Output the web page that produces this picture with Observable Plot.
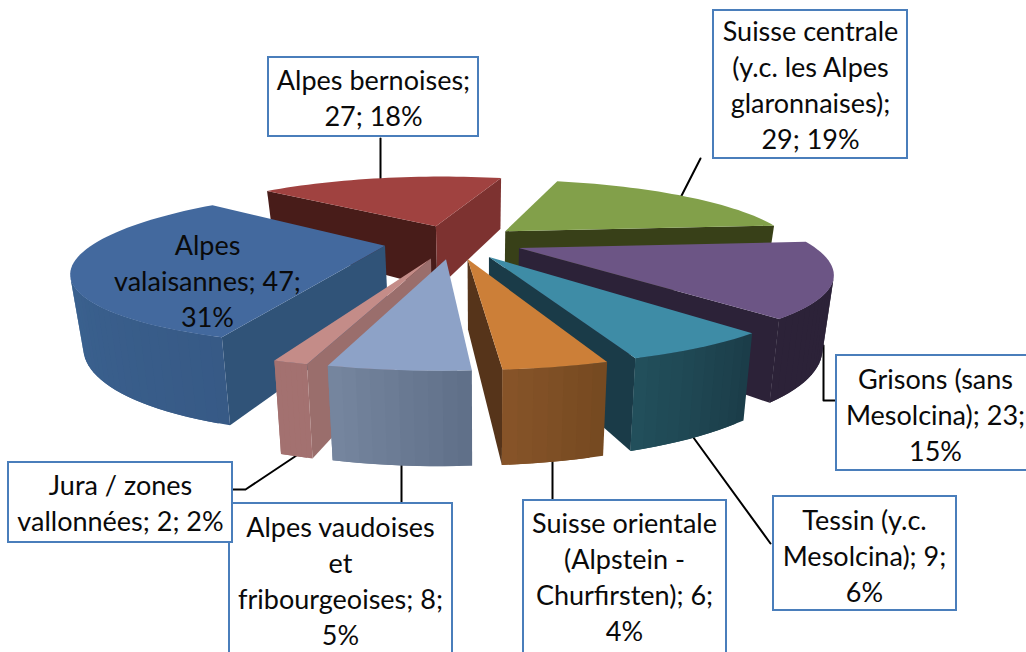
<!DOCTYPE html>
<html><head><meta charset="utf-8">
<script src="https://cdn.jsdelivr.net/npm/d3@7"></script>
<script src="https://cdn.jsdelivr.net/npm/@observablehq/plot@0.6"></script>
<style>html,body{margin:0;padding:0;background:#fff;overflow:hidden}svg{display:block}</style>
</head><body><div id="chart"></div>
<script>
// --- data ---
const categories = ["Alpes valaisannes","Alpes bernoises","Suisse centrale (y.c. les Alpes glaronnaises)","Grisons (sans Mesolcina)","Tessin (y.c. Mesolcina)","Suisse orientale (Alpstein - Churfirsten)","Alpes vaudoises et fribourgeoises","Jura / zones vallonnées"];
const values = [47,27,29,23,9,6,8,2];
const labels = [
 "Alpes\nvalaisannes; 47;\n31%",
 "Alpes bernoises;\n27; 18%",
 "Suisse centrale\n(y.c. les Alpes\nglaronnaises);\n29; 19%",
 "Grisons (sans\nMesolcina); 23;\n15%",
 "Tessin (y.c.\nMesolcina); 9;\n6%",
 "Suisse orientale\n(Alpstein -\nChurfirsten); 6;\n4%",
 "Alpes vaudoises\net\nfribourgeoises; 8;\n5%",
 "Jura / zones\nvallonnées; 2; 2%"
];
// --- styles and layout ---
const topColors   = ["#43699e","#a04240","#82a04a","#6c5585","#3e8ca6","#cc7f38","#8da2c7","#c48c88"];
const startColors = ["#305378","#481c19","#384018","#2c2238","#1a3b48","#56341a","#5e6e88","#9a6e6c"];
const endColors   = ["#305378","#7d3230","#384018","#2c2238","#1a3b48","#56341a","#5e6e88","#9a6e6c"];
const wallFrom    = ["#375a86","#7d3230","#384018","#2c2238","#1b3c48","#754920","#5f6f88","#a37170"];
const wallTo      = ["#3f6b9c","#7d3230","#384018","#2c2238","#22505c","#875429","#76869f","#a37170"];
const drawOrder = [1,2,0,3,4,5,7,6];
const startAngle = 199.4, cx = 453, cy = 241, focal = 289, tilt = 70, persp = 0.265, perspX = 0.28, shear = -0.05,
      explode = 0.24, depth = 66, depthPersp = 0.25, vanishX = 480, bottomScale = 0.968;
const labelBoxes = [
 null,[268,57,478,136],[713,10,907,158],[836,355,1030,470],[773,496,956,610],[523,500,726,656],[229,503,452,656],[8,462,232,542]];
const labelCenters = [[207,279],[373,96],[810,83],[935,413],[864,554],[624,575],[340,579],[120,501]];
const leaders = [
 [[380,138],[380,185]],
 [[700,158],[676,205]],
 [[823,345],[823,400],[836,400]],
 [[690,433],[770,543]],
 [[552,455],[552,503]],
 [[401,455],[401,503]],
 [[302,451],[245,489],[232,489]]
];
// --- geometry from the values ---
const total = d3.sum(values);
const rad = Math.PI/180;
function project(X,Y,bottom){
  let sy = cy + tilt*Y/(1 - persp*Y);
  let sx = cx + focal*X/(1 - perspX*Y) + shear*(sy-cy);
  if(bottom){ sx = vanishX + (sx-vanishX)*bottomScale; sy += depth/(1-depthPersp*Y); }
  return [sx,sy];
}
const polys = []; let pid = 0;
function area(pts){
  let a=0; for(let i=0;i<pts.length;i++){const p=pts[i],q=pts[(i+1)%pts.length];a+=p[0]*q[1]-q[0]*p[1];}
  return a/2;
}
function pushPoly(pts,color){ pid++; pts.forEach(p=>polys.push({id:pid,x:p[0],y:p[1],c:color})); }
let acc = 0;
const slices = values.map((v,i)=>{ const s=startAngle+acc*360/total; acc+=v; return {i,s,e:startAngle+acc*360/total}; });
for(const k of drawOrder){
  const {i,s,e} = slices[k];
  const mid=(s+e)/2*rad;
  const ox=explode*Math.sin(mid), oy=-explode*Math.cos(mid);
  const P=(th,r,b)=>project(ox+r*Math.sin(th*rad), oy-r*Math.cos(th*rad), b);
  const n=Math.max(6,Math.round((e-s)/2));
  const th=d3.range(n+1).map(j=>s+(e-s)*j/n);
  const top=[P(s,0,false),...th.map(t=>P(t,1,false))];
  const sign=Math.sign(area(top));
  const quad=(t1,r1,t2,r2)=>[P(t1,r1,false),P(t2,r2,false),P(t2,r2,true),P(t1,r1,true)];
  const w1=quad(s,0,s,1), w2=quad(e,1,e,0);
  if(Math.sign(area(w1))*sign<0) pushPoly(w1,startColors[i]);
  if(Math.sign(area(w2))*sign<0) pushPoly(w2,endColors[i]);
  const mix=d3.interpolateRgb(wallFrom[i],wallTo[i]);
  for(let j=0;j<n;j++){
    if(Math.sign(area(quad(th[j],1,th[j+1],1)))*sign<0){
      // each strip reaches into the next one so no seams show
      pushPoly(quad(th[j],1,th[Math.min(j+2,n)],1),mix((j+0.5)/n));
    }
  }
  pushPoly(top,topColors[i]);
}
const rects = labelBoxes.filter(Boolean).map(b=>({x1:b[0],y1:b[1],x2:b[2],y2:b[3]}));
const leaderPts = leaders.flatMap((l,i)=>l.map(p=>({id:i,x:p[0],y:p[1]})));
const texts = labels.map((t,i)=>({t,x:labelCenters[i][0],y:labelCenters[i][1]}));
const cfill={value:"c",scale:null};
const chart = Plot.plot({
  width:1026,height:652,margin:0,
  x:{domain:[0,1026],range:[0,1026],axis:null},
  y:{domain:[0,652],range:[0,652],axis:null},
  style:{background:"#fff"},
  marks:[
    Plot.line(leaderPts,{x:"x",y:"y",z:"id",stroke:"#000",strokeWidth:2,curve:"linear"}),
    Plot.line(polys,{x:"x",y:"y",z:"id",fill:cfill,curve:"linear-closed",stroke:null}),
    Plot.rect(rects,{x1:"x1",x2:"x2",y1:"y1",y2:"y2",fill:"#fff",stroke:"#4a7ebb",strokeWidth:2}),
    Plot.text(texts,{x:"x",y:"y",text:"t",fontFamily:"Lato",fontSize:27,lineHeight:1.33,fill:"#0a0a0a",textAnchor:"middle"})
  ]
});
document.getElementById("chart").appendChild(chart);
</script></body></html>
